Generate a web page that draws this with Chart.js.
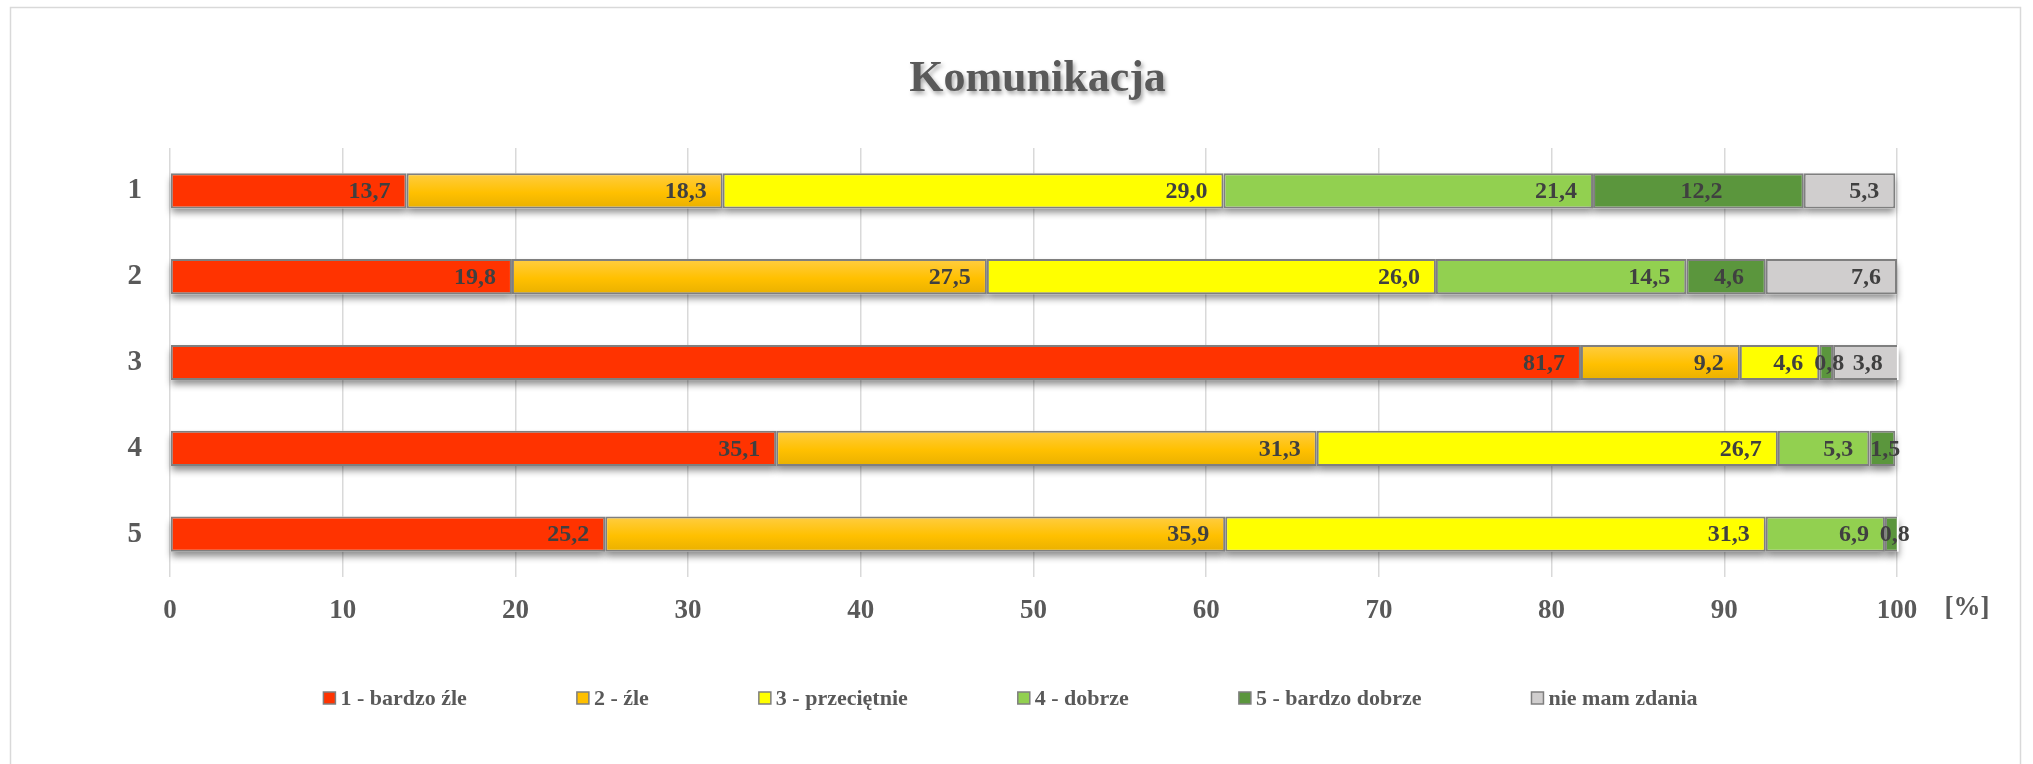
<!DOCTYPE html>
<html>
<head>
<meta charset="utf-8">
<script src="https://cdn.jsdelivr.net/npm/chart.js@4.4.1/dist/chart.umd.min.js"></script>
<style>
  html, body { margin: 0; background: #fff; }
  #c { display: block; }
</style>
</head>
<body>
<canvas id="c" width="2033" height="764"></canvas>
<script>
// questions (rows) and answer shares in %
const rows = ['1', '2', '3', '4', '5']
const seriesNames = ['1 - bardzo źle', '2 - źle', '3 - przeciętnie', '4 - dobrze', '5 - bardzo dobrze', 'nie mam zdania']
const bardzoZle = [13.7, 19.8, 81.7, 35.1, 25.2]
const zle = [18.3, 27.5, 9.2, 31.3, 35.9]
const przecietnie = [29.0, 26.0, 4.6, 26.7, 31.3]
const dobrze = [21.4, 14.5, null, 5.3, 6.9]
const bardzoDobrze = [12.2, 4.6, 0.8, 1.5, 0.8]
const nieMamZdania = [5.3, 7.6, 3.8, null, null]
const xMin = 0
const xMax = 100
const xStep = 10
const title = 'Komunikacja'
const unitLabel = '[%]'

const SERIF = '"Liberation Serif", "DejaVu Serif", serif'
const TEXT = '#595959'
const swatches = ['#ff3300', '#ffc000', '#ffff00', '#92d050', '#5b963d', '#d0cece']
const BAR_PCT = 0.41

// orange segments get a soft vertical gradient
function orangeFill(ctx) {
    const chart = ctx.chart
    const y = chart.scales && chart.scales.y
    if (!y || ctx.dataIndex == null || !isFinite(y.getPixelForValue(0))) return '#ffc000'
    const c = y.getPixelForValue(ctx.dataIndex)
    const h = Math.abs(y.getPixelForValue(1) - y.getPixelForValue(0)) * BAR_PCT / 2
    const g = chart.ctx.createLinearGradient(0, c - h, 0, c + h)
    g.addColorStop(0, '#ffcd42')
    g.addColorStop(0.55, '#ffc000')
    g.addColorStop(1, '#e9b000')
    return g
}

const series = [bardzoZle, zle, przecietnie, dobrze, bardzoDobrze, nieMamZdania]
const datasets = series.map((values, i) => ({
    label: seriesNames[i],
    data: values,
    backgroundColor: i === 1 ? orangeFill : swatches[i],
}))

const fmt = v => v.toFixed(1).replace('.', ',')

const decor = {
    id: 'decor',
    beforeDraw(chart) {
        const ctx = chart.ctx
        ctx.save()
        ctx.strokeStyle = '#d9d9d9'
        ctx.lineWidth = 1.5
        ctx.strokeRect(10.5, 7.5, 2010, 770)

        // title with a light drop shadow
        ctx.font = 'bold 44px ' + SERIF
        ctx.fillStyle = TEXT
        ctx.textAlign = 'center'
        ctx.textBaseline = 'middle'
        ctx.shadowColor = 'rgba(0,0,0,0.35)'
        ctx.shadowOffsetX = 2
        ctx.shadowOffsetY = 3
        ctx.shadowBlur = 4
        const a = chart.chartArea
        ctx.fillText(title, (a.left + a.right) / 2 + 4, 80)
        ctx.restore()
    },
    beforeDatasetsDraw(chart) {
        // shadow under every bar, covered afterwards by the bars themselves
        const ctx = chart.ctx
        ctx.save()
        ctx.shadowColor = 'rgba(0,0,0,0.45)'
        ctx.shadowOffsetY = 5
        ctx.shadowBlur = 7
        ctx.fillStyle = '#ffffff'
        chart.data.datasets.forEach((ds, di) => {
            chart.getDatasetMeta(di).data.forEach((el, i) => {
                if (ds.data[i] == null || !isFinite(el.x)) return
                const left = Math.min(el.x, el.base)
                ctx.fillRect(left, el.y - el.height / 2, Math.abs(el.x - el.base), el.height)
            })
        })
        ctx.restore()
    },
    afterDatasetsDraw(chart) {
        const ctx = chart.ctx
        ctx.save()
        ctx.font = 'bold 24px ' + SERIF
        ctx.fillStyle = '#404040'
        ctx.textBaseline = 'middle'
        chart.data.datasets.forEach((ds, di) => {
            chart.getDatasetMeta(di).data.forEach((el, i) => {
                const v = ds.data[i]
                if (v == null || !isFinite(el.x)) return
                if (di === 4) {
                    ctx.textAlign = 'center'
                    ctx.fillText(fmt(v), (el.x + el.base) / 2 + 3, el.y + 1)
                } else {
                    ctx.textAlign = 'right'
                    ctx.fillText(fmt(v), el.x - 16, el.y + 1)
                }
            })
        })
        ctx.restore()
    },
    afterDraw(chart) {
        const ctx = chart.ctx
        const a = chart.chartArea
        ctx.save()
        ctx.fillStyle = TEXT
        ctx.textBaseline = 'middle'
        ctx.textAlign = 'center'
        ctx.font = 'bold 27px ' + SERIF
        ctx.fillText(unitLabel, a.right + 70, 608)

        // legend row
        ctx.font = 'bold 22px ' + SERIF
        const box = 12, gapText = 5, gapItem = 110
        const widths = seriesNames.map(n => box + gapText + ctx.measureText(n).width)
        const total = widths.reduce((s, w) => s + w, 0) + gapItem * (seriesNames.length - 1)
        let x = chart.width / 2 - total / 2 - 6
        const y = 698
        ctx.textAlign = 'left'
        seriesNames.forEach((n, i) => {
            ctx.fillStyle = swatches[i]
            ctx.fillRect(x, y - box / 2, box, box)
            ctx.strokeStyle = '#7f7f7f'
            ctx.lineWidth = 1.5
            ctx.strokeRect(x, y - box / 2, box, box)
            ctx.fillStyle = TEXT
            ctx.fillText(n, x + box + gapText, y + 1)
            x += widths[i] + gapItem
        })
        ctx.restore()
    },
}

new Chart(document.getElementById('c'), {
    type: 'bar',
    data: { labels: rows, datasets },
    plugins: [decor],
    options: {
        responsive: false,
        animation: false,
        indexAxis: 'y',
        layout: { padding: { left: 110, right: 136, top: 148, bottom: 0 } },
        plugins: { legend: { display: false }, tooltip: { enabled: false } },
        datasets: {
            bar: {
                categoryPercentage: 1,
                barPercentage: BAR_PCT,
                borderWidth: 2,
                borderColor: '#7f7f7f',
                borderSkipped: false,
            },
        },
        scales: {
            x: {
                stacked: true,
                min: xMin,
                max: xMax,
                ticks: { stepSize: xStep, padding: 18, color: TEXT, font: { family: SERIF, size: 27, weight: 'bold' } },
                grid: { color: '#d9d9d9', lineWidth: 1.5, drawTicks: false },
                border: { display: false },
                afterFit(s) { s.height = 187 },
            },
            y: {
                stacked: true,
                ticks: { padding: 20, color: TEXT, font: { family: SERIF, size: 29, weight: 'bold' } },
                grid: { display: false },
                border: { display: false },
                afterFit(s) { s.width = 60 },
            },
        },
    },
})
</script>
</body>
</html>
